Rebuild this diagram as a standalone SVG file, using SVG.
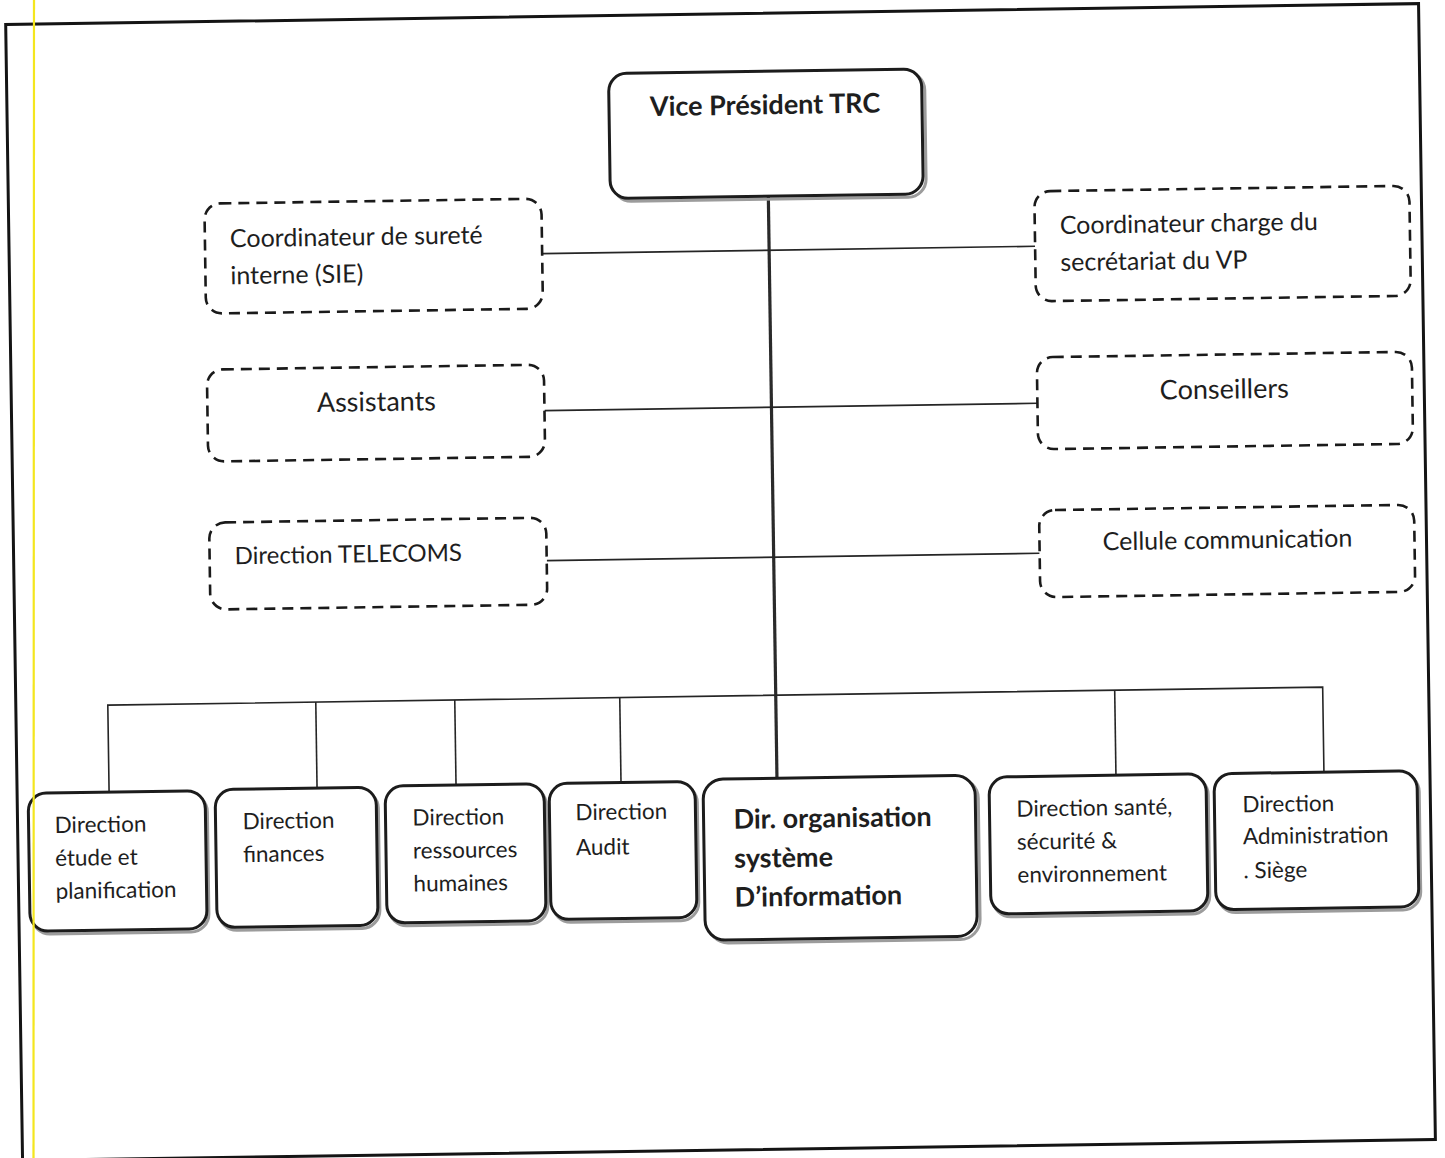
<svg xmlns="http://www.w3.org/2000/svg" width="1445" height="1158" viewBox="0 0 1445 1158">
  <style>
    .frame { fill: none; stroke: #141414; stroke-width: 3; }
    .dash { fill: #fff; stroke: #1a1a1a; stroke-width: 2.6; stroke-dasharray: 11 7; }
    .box { fill: #fff; stroke: #1c1c1c; stroke-width: 3; }
    .shadow { fill: none; stroke: #9c9c9c; stroke-width: 3; }
    .wire { fill: none; stroke: #252525; stroke-width: 1.6; }
    .trunk { fill: none; stroke: #2a2a2a; stroke-width: 3.2; }
    .t { font-family: Lato, "Liberation Sans", sans-serif; font-size: 22.5px; fill: #1e1e1e; }
    .s { font-size: 24px; }
    .m { font-size: 25px; }
    .l { font-size: 27px; }
    .b { font-weight: bold; font-size: 27px; }
    .c { text-anchor: middle; }
  </style>
  <rect width="1445" height="1158" fill="#fff"/>

  <g transform="rotate(-0.85 722 579)">
    <!-- page border -->
    <rect class="frame" x="14" y="14" width="1413" height="1136"/>

    <!-- connectors -->
    <g id="connectors">
      <line class="trunk" x1="774" y1="197" x2="774" y2="779"/>
      <line class="wire" x1="547" y1="251" x2="1040" y2="251"/>
      <line class="wire" x1="547" y1="408" x2="1040" y2="408"/>
      <line class="wire" x1="547" y1="558" x2="1040" y2="558"/>
      <polyline class="wire" points="106,783 106,696 1321,696 1321,781"/>
      <line class="wire" x1="314" y1="696" x2="314" y2="782"/>
      <line class="wire" x1="453" y1="696" x2="453" y2="781"/>
      <line class="wire" x1="618" y1="696" x2="618" y2="781"/>
      <line class="wire" x1="1113" y1="696" x2="1113" y2="781"/>
    </g>

    <!-- head -->
    <g id="vp">
      <rect class="shadow" x="619" y="75" width="313" height="125" rx="18" stroke-width="4"/>
      <rect class="box" x="616" y="72" width="313" height="125" rx="18" stroke-width="4"/>
      <text class="t b c" x="772" y="115">Vice Président TRC</text>
    </g>

    <!-- staff units, left -->
    <g id="surete">
      <rect class="dash" x="210" y="196" width="337" height="110" rx="16"/>
      <text class="t m" x="235" y="240">Coordinateur de sureté</text>
      <text class="t m" x="235" y="277">interne (SIE)</text>
    </g>
    <g id="assistants">
      <rect class="dash" x="210" y="362" width="337" height="92" rx="16"/>
      <text class="t l c" x="379" y="406">Assistants</text>
    </g>
    <g id="telecoms">
      <rect class="dash" x="210" y="515" width="337" height="87" rx="16"/>
      <text class="t s" x="235" y="557">Direction TELECOMS</text>
    </g>

    <!-- staff units, right -->
    <g id="secretariat">
      <rect class="dash" x="1040" y="196" width="375" height="110" rx="16"/>
      <text class="t m" x="1065" y="239">Coordinateur charge du</text>
      <text class="t m" x="1065" y="276">secrétariat du VP</text>
    </g>
    <g id="conseillers">
      <rect class="dash" x="1040" y="362" width="375" height="92" rx="16"/>
      <text class="t l c" x="1227" y="406">Conseillers</text>
    </g>
    <g id="communication">
      <rect class="dash" x="1040" y="515" width="375" height="87" rx="16"/>
      <text class="t m c" x="1228" y="556">Cellule communication</text>
    </g>

    <!-- directorates -->
    <g id="etude">
      <rect class="shadow" x="27" y="786" width="177" height="138" rx="18"/>
      <rect class="box" x="25" y="783" width="177" height="138" rx="18"/>
      <text class="t" x="51" y="823">Direction</text>
      <text class="t" x="51" y="856">étude et</text>
      <text class="t" x="51" y="889">planification</text>
    </g>
    <g id="finances">
      <rect class="shadow" x="214" y="785" width="161" height="138" rx="18"/>
      <rect class="box" x="212" y="782" width="161" height="138" rx="18"/>
      <text class="t" x="239" y="822">Direction</text>
      <text class="t" x="239" y="855">finances</text>
    </g>
    <g id="rh">
      <rect class="shadow" x="384" y="784" width="159" height="137" rx="18"/>
      <rect class="box" x="382" y="781" width="159" height="137" rx="18"/>
      <text class="t" x="409" y="821">Direction</text>
      <text class="t" x="409" y="854">ressources</text>
      <text class="t" x="409" y="887">humaines</text>
    </g>
    <g id="audit">
      <rect class="shadow" x="548" y="784" width="146" height="136" rx="18"/>
      <rect class="box" x="546" y="781" width="146" height="136" rx="18"/>
      <text class="t" x="572" y="818">Direction</text>
      <text class="t" x="572" y="853">Audit</text>
    </g>
    <g id="dosi">
      <rect class="shadow" x="703" y="782" width="272" height="161" rx="20" stroke-width="5"/>
      <rect class="box" x="700" y="779" width="272" height="161" rx="20" stroke-width="5" stroke="#2c2c2c"/>
      <text class="t b" x="730" y="829">Dir. organisation</text>
      <text class="t b" x="730" y="868">système</text>
      <text class="t b" x="730" y="907">D’information</text>
    </g>
    <g id="hse">
      <rect class="shadow" x="988" y="784" width="217" height="137" rx="18"/>
      <rect class="box" x="986" y="781" width="217" height="137" rx="18"/>
      <text class="t" x="1013" y="821">Direction santé,</text>
      <text class="t" x="1013" y="854">sécurité &amp;</text>
      <text class="t" x="1013" y="887">environnement</text>
    </g>
    <g id="administration">
      <rect class="shadow" x="1213" y="784" width="203" height="136" rx="18"/>
      <rect class="box" x="1211" y="781" width="203" height="136" rx="18"/>
      <text class="t" x="1239" y="820">Direction</text>
      <text class="t" x="1239" y="852">Administration</text>
      <text class="t" x="1239" y="886">. Siège</text>
    </g>
  </g>

  <!-- highlighter margin line -->
  <line x1="34" y1="0" x2="33.5" y2="1158" stroke="#f4e61e" stroke-width="2.2"/>
</svg>
